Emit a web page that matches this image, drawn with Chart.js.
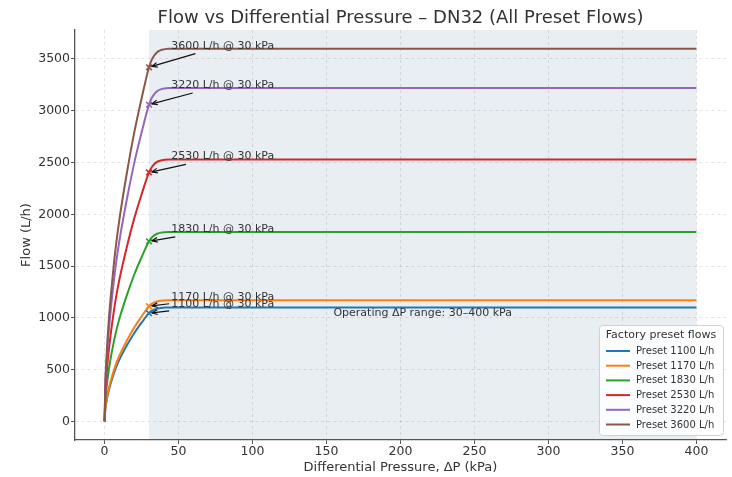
<!DOCTYPE html>
<html>
<head>
<meta charset="utf-8">
<script src="https://cdn.jsdelivr.net/npm/chart.js@4.4.1/dist/chart.umd.min.js"></script>
<style>
  html, body { margin: 0; padding: 0; background: #ffffff; }
  #wrap { width: 732px; height: 477px; }
</style>
</head>
<body>
<div id="wrap"><canvas id="chart" width="732" height="477"></canvas></div>
<script>
// ── Data ───────────────────────────────────────────────────────────

const dpKpa = [0, 0.5, 1, 2, 3, 5, 7.5, 10, 15, 20, 25, 30, 31, 32, 33, 34, 36, 38, 40, 43, 400];

const flow1100 = [0, 115, 167, 245, 308, 408, 512, 596, 732, 851, 953, 1045, 1058, 1068, 1076, 1082, 1091, 1096, 1098, 1100, 1100];
const flow1170 = [0, 122, 178, 261, 328, 433, 545, 634, 778, 906, 1013, 1112, 1126, 1136, 1144, 1151, 1161, 1165, 1168, 1170, 1170];
const flow1830 = [0, 191, 278, 408, 512, 678, 852, 991, 1217, 1416, 1585, 1739, 1760, 1777, 1790, 1801, 1815, 1823, 1826, 1830, 1830];
const flow2530 = [0, 264, 385, 564, 708, 937, 1178, 1370, 1682, 1958, 2191, 2404, 2434, 2457, 2474, 2490, 2510, 2520, 2525, 2530, 2530];
const flow3220 = [0, 336, 489, 718, 902, 1193, 1499, 1744, 2141, 2492, 2789, 3059, 3098, 3127, 3149, 3168, 3194, 3207, 3214, 3220, 3220];
const flow3600 = [0, 376, 547, 803, 1008, 1334, 1676, 1949, 2394, 2786, 3118, 3420, 3463, 3496, 3521, 3542, 3571, 3586, 3593, 3600, 3600];

const presets = [1100, 1170, 1830, 2530, 3220, 3600];
const flows = [flow1100, flow1170, flow1830, flow2530, flow3220, flow3600];
const colors = ["#1f77b4", "#ff7f0e", "#2ca02c", "#d62728", "#9467bd", "#8c564b"];

const markerDp = 30;
const labelDp = 45;
const rangeStart = 30;
const rangeEnd = 400;

const xTicks = [0, 50, 100, 150, 200, 250, 300, 350, 400];
const yTicks = [0, 500, 1000, 1500, 2000, 2500, 3000, 3500];

const FONT = "'DejaVu Sans', 'Noto Sans', sans-serif";
const TEXT = "#333333";
const SPINE = "#555555";

// ── Datasets ───────────────────────────────────────────────────────

const markerIdx = dpKpa.indexOf(markerDp);

const datasets = [];
presets.forEach(function (p, i) {
  datasets.push({
    label: "Preset " + p + " L/h",
    data: dpKpa.map(function (x, k) { return { x: x, y: flows[i][k] }; }),
    borderColor: colors[i],
    backgroundColor: colors[i],
    borderWidth: 2,
    pointRadius: 0,
    fill: false,
    cubicInterpolationMode: "monotone",
    order: 10 - i,
  });
});
presets.forEach(function (p, i) {
  datasets.push({
    label: "marker " + p,
    data: [{ x: markerDp, y: flows[i][markerIdx] }],
    showLine: false,
    pointStyle: "crossRot",
    pointRadius: 4,
    borderColor: colors[i],
    borderWidth: 1.6,
    order: 0,
  });
});

// ── Plugin: shaded range, title, annotations, legend ───────────────

function drawArrow(ctx, x1, y1, x2, y2) {
  ctx.beginPath();
  ctx.moveTo(x1, y1);
  ctx.lineTo(x2, y2);
  ctx.stroke();
  const ang = Math.atan2(y2 - y1, x2 - x1);
  const h = 6;
  ctx.beginPath();
  ctx.moveTo(x2 - h * Math.cos(ang - 0.4), y2 - h * Math.sin(ang - 0.4));
  ctx.lineTo(x2, y2);
  ctx.lineTo(x2 - h * Math.cos(ang + 0.4), y2 - h * Math.sin(ang + 0.4));
  ctx.stroke();
}

const extrasPlugin = {
  id: "extras",
  beforeDraw: function (chart) {
    const ctx = chart.ctx;
    const area = chart.chartArea;
    const xs = chart.scales.x;
    const x1 = xs.getPixelForValue(rangeStart);
    const x2 = xs.getPixelForValue(rangeEnd);
    ctx.save();
    ctx.fillStyle = "rgb(233, 238, 243)";
    ctx.fillRect(x1, area.top, x2 - x1, area.bottom - area.top);
    ctx.restore();
  },
  afterDatasetsDraw: function (chart) {
    const ctx = chart.ctx;
    const xs = chart.scales.x;
    const ys = chart.scales.y;
    ctx.save();

    // annotations with arrows
    ctx.font = "11px " + FONT;
    ctx.textBaseline = "alphabetic";
    ctx.textAlign = "left";
    presets.forEach(function (p, i) {
      const txt = p + " L/h @ " + markerDp + " kPa";
      const left = xs.getPixelForValue(labelDp);
      const base = ys.getPixelForValue(p);
      const w = ctx.measureText(txt).width;
      ctx.fillStyle = TEXT;
      ctx.fillText(txt, left, base);

      const tx = xs.getPixelForValue(markerDp);
      const ty = ys.getPixelForValue(flows[i][markerIdx]);
      const cx = left + w / 2;
      const cy = base - 3;
      const bottom = base + 5;
      const leftEdge = left - 2;
      let t = 1;
      if (ty > cy) t = Math.min(t, (bottom - cy) / (ty - cy));
      if (tx < cx) t = Math.min(t, (leftEdge - cx) / (tx - cx));
      const sx = cx + t * (tx - cx);
      const sy = cy + t * (ty - cy);
      const len = Math.hypot(tx - sx, ty - sy);
      const ex = tx + (sx - tx) * 3 / len;
      const ey = ty + (sy - ty) * 3 / len;
      ctx.strokeStyle = "#111111";
      ctx.lineWidth = 1.2;
      drawArrow(ctx, sx, sy, ex, ey);
    });

    // operating range note
    ctx.font = "11px " + FONT;
    ctx.textAlign = "center";
    ctx.textBaseline = "middle";
    ctx.fillStyle = TEXT;
    ctx.fillText("Operating \u0394P range: " + rangeStart + "\u2013" + rangeEnd + " kPa",
      xs.getPixelForValue((rangeStart + rangeEnd) / 2), ys.getPixelForValue(1045));
    ctx.restore();
  },
  afterDraw: function (chart) {
    const ctx = chart.ctx;
    const area = chart.chartArea;
    ctx.save();

    // title
    ctx.font = "18px " + FONT;
    ctx.fillStyle = TEXT;
    ctx.textAlign = "center";
    ctx.textBaseline = "middle";
    ctx.fillText("Flow vs Differential Pressure \u2013 DN32 (All Preset Flows)", (area.left + area.right) / 2, 18);

    // legend box
    const bx = 599, by = 325, bw = 124, bh = 110;
    ctx.beginPath();
    ctx.roundRect(bx + 0.5, by + 0.5, bw, bh, 3);
    ctx.fillStyle = "rgba(255,255,255,0.85)";
    ctx.fill();
    ctx.strokeStyle = "#d0d0d0";
    ctx.lineWidth = 1;
    ctx.stroke();

    ctx.font = "11px " + FONT;
    ctx.fillStyle = TEXT;
    ctx.textAlign = "center";
    ctx.fillText("Factory preset flows", bx + bw / 2, 335);

    ctx.font = "10px " + FONT;
    ctx.textAlign = "left";
    presets.forEach(function (p, i) {
      const y = 351 + i * 14.7;
      ctx.strokeStyle = colors[i];
      ctx.lineWidth = 2;
      ctx.beginPath();
      ctx.moveTo(606, y);
      ctx.lineTo(630, y);
      ctx.stroke();
      ctx.fillStyle = TEXT;
      ctx.fillText("Preset " + p + " L/h", 636, y + 0.5);
    });
    ctx.restore();
  },
};

// ── Chart ──────────────────────────────────────────────────────────

const tickFont = { family: FONT, size: 12.5 };

new Chart(document.getElementById("chart").getContext("2d"), {
  type: "line",
  data: { datasets: datasets },
  options: {
    responsive: false,
    animation: false,
    layout: { padding: { top: 30, right: 6, left: 0, bottom: 0 } },
    plugins: {
      legend: { display: false },
      tooltip: { enabled: false },
      title: { display: false },
    },
    scales: {
      x: {
        type: "linear",
        min: -20,
        max: 420,
        afterBuildTicks: function (axis) {
          axis.ticks = xTicks.map(function (v) { return { value: v }; });
        },
        afterFit: function (axis) { axis.height = 37; },
        ticks: {
          color: TEXT,
          font: tickFont,
          padding: 0,
          maxRotation: 0,
          callback: function (v) { return String(v); },
        },
        grid: {
          color: "rgba(0,0,0,0.13)",
          lineWidth: 0.8,
          tickColor: SPINE,
          tickLength: 4,
          tickWidth: 1,
        },
        border: { display: true, color: SPINE, width: 1.3, dash: [3, 3] },
        title: {
          display: true,
          text: "Differential Pressure, \u0394P (kPa)",
          color: TEXT,
          font: { family: FONT, size: 13 },
          padding: { top: 0, bottom: 2 },
        },
      },
      y: {
        type: "linear",
        min: -180,
        max: 3780,
        afterBuildTicks: function (axis) {
          axis.ticks = yTicks.map(function (v) { return { value: v }; });
        },
        afterFit: function (axis) { axis.width = 75; },
        ticks: {
          color: TEXT,
          font: tickFont,
          padding: 1,
          callback: function (v) { return String(v); },
        },
        grid: {
          color: "rgba(0,0,0,0.13)",
          lineWidth: 0.8,
          tickColor: SPINE,
          tickLength: 4,
          tickWidth: 1,
        },
        border: { display: true, color: SPINE, width: 1.3, dash: [3, 3] },
        title: {
          display: true,
          text: "Flow (L/h)",
          color: TEXT,
          font: { family: FONT, size: 13 },
          padding: { top: 19, bottom: 0 },
        },
      },
    },
  },
  plugins: [extrasPlugin],
});
</script>
</body>
</html>
